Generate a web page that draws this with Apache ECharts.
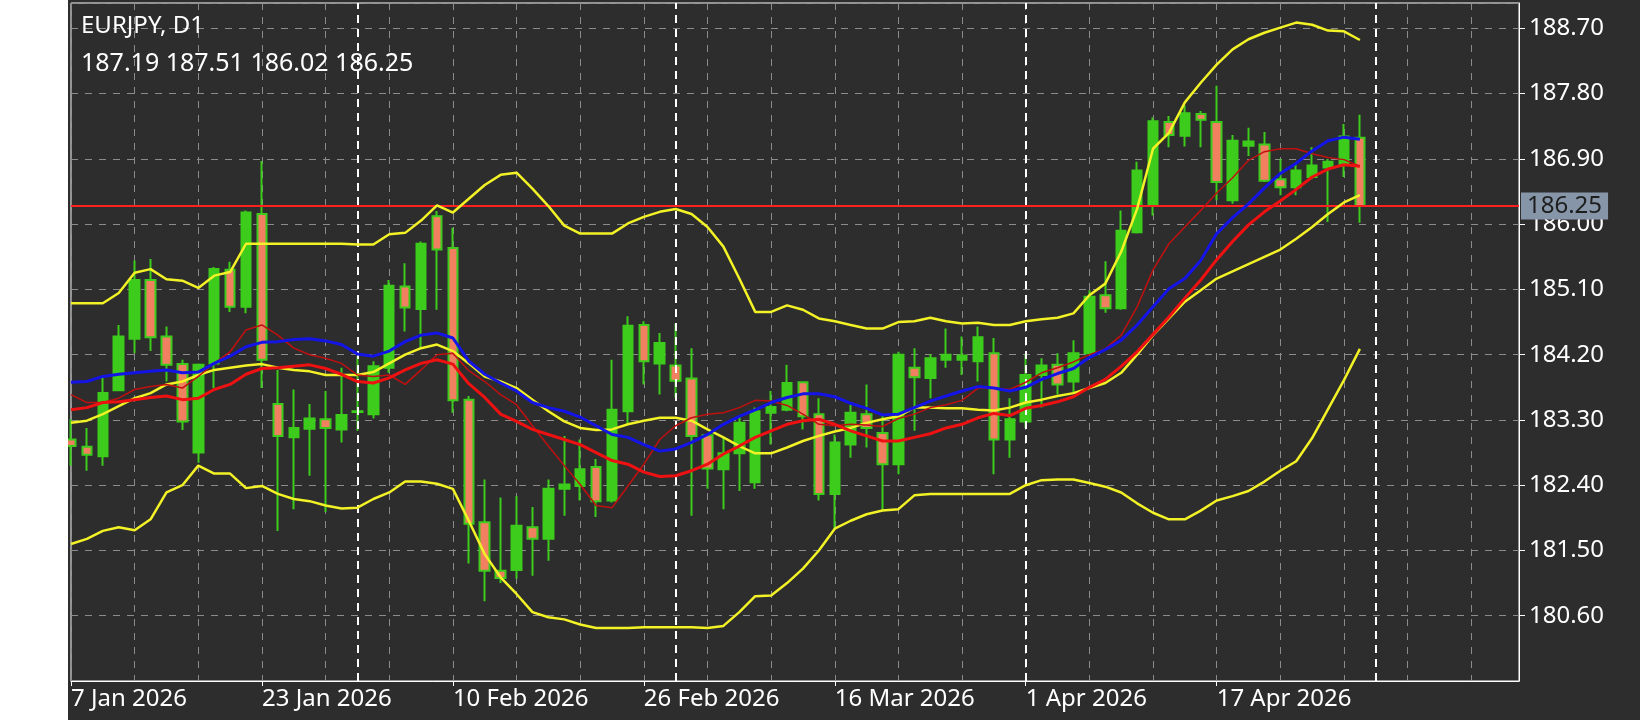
<!DOCTYPE html>
<html>
<head>
<meta charset="utf-8">
<script src="https://cdn.jsdelivr.net/npm/echarts@6/dist/echarts.min.js"></script>
<style>
html, body { margin: 0; padding: 0; background: #ffffff; }
#kline { position: absolute; left: 68px; top: 0; width: 1572px; height: 720px; background: #2d2d2d; }
</style>
</head>
<body>
<div id="kline"></div>
<script>
// 交易日（含未来空白）
var dates = [
	'7 Jan 2026', '8 Jan 2026', '9 Jan 2026', '12 Jan 2026', '13 Jan 2026', '14 Jan 2026', '15 Jan 2026', '16 Jan 2026', '19 Jan 2026', '20 Jan 2026',
	'21 Jan 2026', '22 Jan 2026', '23 Jan 2026', '26 Jan 2026', '27 Jan 2026', '28 Jan 2026', '29 Jan 2026', '30 Jan 2026',
	'2 Feb 2026', '3 Feb 2026', '4 Feb 2026', '5 Feb 2026', '6 Feb 2026', '9 Feb 2026', '10 Feb 2026', '11 Feb 2026', '12 Feb 2026', '13 Feb 2026',
	'16 Feb 2026', '17 Feb 2026', '18 Feb 2026', '19 Feb 2026', '20 Feb 2026', '23 Feb 2026', '24 Feb 2026', '25 Feb 2026', '26 Feb 2026', '27 Feb 2026',
	'2 Mar 2026', '3 Mar 2026', '4 Mar 2026', '5 Mar 2026', '6 Mar 2026', '9 Mar 2026', '10 Mar 2026', '11 Mar 2026', '12 Mar 2026', '13 Mar 2026',
	'16 Mar 2026', '17 Mar 2026', '18 Mar 2026', '19 Mar 2026', '20 Mar 2026', '23 Mar 2026', '24 Mar 2026', '25 Mar 2026', '26 Mar 2026', '27 Mar 2026',
	'30 Mar 2026', '31 Mar 2026',
	'1 Apr 2026', '2 Apr 2026', '3 Apr 2026', '6 Apr 2026', '7 Apr 2026', '8 Apr 2026', '9 Apr 2026', '10 Apr 2026', '13 Apr 2026', '14 Apr 2026',
	'15 Apr 2026', '16 Apr 2026', '17 Apr 2026', '20 Apr 2026', '21 Apr 2026', '22 Apr 2026', '23 Apr 2026', '24 Apr 2026', '27 Apr 2026', '28 Apr 2026',
	'29 Apr 2026', '30 Apr 2026',
	'1 May 2026', '4 May 2026', '5 May 2026', '6 May 2026', '7 May 2026', '8 May 2026', '11 May 2026', '12 May 2026', '13 May 2026', '14 May 2026'
];
var tickLabels = ['7 Jan 2026', '23 Jan 2026', '10 Feb 2026', '26 Feb 2026', '16 Mar 2026', '1 Apr 2026', '17 Apr 2026'];
var monthStarts = ['2 Feb 2026', '2 Mar 2026', '1 Apr 2026', '1 May 2026'];
var lastPrice = 186.25;

var open = [183.03,182.93,182.80,183.71,184.42,185.23,184.45,184.07,182.85,184.08,
	185.37,184.86,186.14,183.52,183.06,183.18,183.31,183.17,183.41,183.38,
	184.02,185.14,184.83,186.11,185.67,183.58,181.89,181.22,181.23,181.82,
	181.66,182.35,182.39,182.65,182.19,183.42,184.61,184.08,184.05,183.87,
	183.09,182.62,182.84,182.44,183.40,183.44,183.82,183.38,182.28,182.96,
	183.38,183.12,182.69,184.02,183.88,184.13,184.13,184.11,184.22,183.03,
	183.28,183.92,184.06,183.83,184.22,185.02,184.84,185.89,186.26,187.41,
	187.22,187.52,187.41,186.33,187.08,187.10,186.62,186.51,186.65,186.78,
	186.83,187.19];
var high = [183.31,183.19,183.88,184.61,185.50,185.52,184.59,184.13,184.08,185.41,
	185.48,186.19,186.87,183.99,183.72,183.52,183.70,184.02,184.18,184.11,
	185.23,185.46,185.76,186.18,185.95,183.63,182.48,182.23,182.25,182.10,
	182.48,183.08,183.03,182.76,184.13,184.73,184.66,184.50,184.63,184.29,
	183.10,183.06,183.35,183.47,183.70,184.06,183.83,183.60,183.10,183.51,
	183.79,183.35,184.24,184.29,184.21,184.56,184.45,184.59,184.43,183.60,
	184.20,184.15,184.22,184.40,185.09,185.49,186.19,186.86,187.47,187.49,
	187.64,187.56,187.91,187.23,187.33,187.27,186.90,186.83,187.06,186.90,
	187.38,187.51];
var low = [182.67,182.60,182.67,183.70,184.22,184.25,183.83,183.16,182.71,183.74,
	184.79,184.77,183.74,181.77,182.07,182.53,182.03,182.99,183.15,183.32,
	183.95,184.52,184.29,184.82,183.40,181.32,180.80,181.05,181.11,181.15,
	181.36,181.98,182.19,181.96,182.16,183.24,183.79,183.65,183.61,181.98,
	182.35,182.07,182.32,182.35,182.96,183.42,183.17,182.19,181.80,182.78,
	182.92,182.05,182.55,183.15,183.60,184.02,183.92,183.83,182.55,182.78,
	183.19,183.47,183.65,183.67,184.20,184.78,184.82,185.87,186.12,187.06,
	187.07,187.06,186.33,186.28,186.94,186.58,186.40,186.40,186.62,186.03,
	186.65,186.02];
var close = [182.94,182.82,183.67,184.45,185.23,184.44,184.06,183.28,184.06,185.38,
	184.86,186.16,184.13,183.08,183.19,183.32,183.19,183.37,183.42,184.04,
	185.15,184.85,185.73,185.65,183.57,181.87,181.22,181.12,181.84,181.66,
	182.35,182.41,182.62,182.18,183.44,184.60,184.11,184.36,183.84,183.08,
	182.63,182.84,183.26,183.42,183.48,183.81,183.35,182.28,182.99,183.40,
	183.19,182.69,184.20,183.89,184.15,184.20,184.19,184.44,183.03,183.31,
	183.92,184.05,183.79,184.22,185.00,184.84,185.91,186.74,187.42,187.23,
	187.53,187.44,186.58,187.15,187.14,186.60,186.51,186.74,186.81,186.86,
	187.21,186.25];

// 布林带
var bbUpper = [184.91,184.91,184.91,185.05,185.33,185.38,185.24,185.22,185.12,185.29,
	185.34,185.73,185.73,185.73,185.73,185.73,185.73,185.73,185.72,185.72,
	185.86,185.88,186.05,186.26,186.16,186.35,186.54,186.68,186.71,186.49,
	186.25,185.98,185.87,185.87,185.87,186.01,186.10,186.17,186.21,186.14,
	185.96,185.69,185.25,184.79,184.79,184.88,184.82,184.70,184.66,184.61,
	184.56,184.56,184.65,184.66,184.71,184.66,184.63,184.64,184.61,184.61,
	184.66,184.69,184.71,184.77,185.02,185.18,185.62,186.21,187.04,187.26,
	187.68,187.95,188.20,188.41,188.55,188.64,188.71,188.78,188.75,188.67,
	188.66,188.54];
var bbMiddle = [183.26,183.29,183.38,183.49,183.60,183.67,183.79,183.83,183.92,183.99,
	184.02,184.05,184.07,184.02,183.99,183.97,183.92,183.92,183.92,183.96,
	184.08,184.20,184.29,184.34,184.25,184.08,183.90,183.83,183.74,183.58,
	183.42,183.28,183.19,183.16,183.17,183.24,183.29,183.33,183.33,183.29,
	183.17,183.06,182.94,182.84,182.84,182.92,183.01,183.08,183.14,183.19,
	183.26,183.31,183.35,183.47,183.47,183.46,183.46,183.44,183.43,183.47,
	183.54,183.58,183.63,183.67,183.74,183.81,183.95,184.20,184.47,184.70,
	184.93,185.09,185.25,185.35,185.45,185.55,185.65,185.80,185.96,186.14,
	186.30,186.40];
var bbLower = [181.59,181.66,181.77,181.82,181.78,181.93,182.30,182.40,182.67,182.56,
	182.56,182.36,182.39,182.28,182.21,182.18,182.12,182.08,182.09,182.21,
	182.30,182.45,182.45,182.42,182.35,181.91,181.45,181.13,180.90,180.65,
	180.58,180.55,180.48,180.43,180.43,180.43,180.44,180.44,180.44,180.44,
	180.43,180.46,180.65,180.87,180.88,181.05,181.25,181.50,181.80,181.91,
	182.00,182.05,182.07,182.26,182.28,182.28,182.28,182.28,182.28,182.28,
	182.40,182.47,182.48,182.48,182.43,182.38,182.30,182.15,182.02,181.93,
	181.93,182.05,182.19,182.25,182.32,182.45,182.60,182.73,183.05,183.45,
	183.85,184.28];
// 均线
var maBlue = [183.82,183.83,183.90,183.93,183.95,183.97,183.99,183.95,183.96,184.08,
	184.18,184.31,184.37,184.38,184.41,184.42,184.39,184.34,184.21,184.18,
	184.25,184.38,184.47,184.50,184.43,184.11,183.93,183.81,183.70,183.54,
	183.47,183.42,183.34,183.22,183.10,183.06,182.96,182.87,182.90,182.99,
	183.10,183.24,183.35,183.44,183.54,183.61,183.66,183.66,183.62,183.53,
	183.46,183.37,183.38,183.47,183.56,183.63,183.70,183.76,183.74,183.70,
	183.75,183.86,183.94,184.01,184.16,184.27,184.40,184.61,184.86,185.11,
	185.25,185.50,185.87,186.09,186.28,186.50,186.70,186.84,187.01,187.15,
	187.20,187.17];
var maRed = [183.44,183.47,183.54,183.55,183.58,183.61,183.63,183.58,183.60,183.72,
	183.79,183.93,184.01,184.02,184.04,184.06,184.01,183.93,183.83,183.81,
	183.88,183.99,184.08,184.13,184.07,183.80,183.61,183.38,183.28,183.17,
	183.10,183.03,182.96,182.85,182.74,182.69,182.58,182.52,182.53,182.60,
	182.69,182.83,182.94,183.06,183.15,183.24,183.29,183.31,183.24,183.15,
	183.08,183.01,183.01,183.06,183.11,183.19,183.24,183.33,183.39,183.36,
	183.46,183.50,183.55,183.62,183.75,183.86,184.04,184.24,184.48,184.72,
	184.98,185.23,185.51,185.76,185.99,186.17,186.32,186.48,186.65,186.76,
	186.82,186.80];
var maDarkRed = [183.65,183.54,183.54,183.60,183.72,183.76,183.79,183.74,183.90,184.08,
	184.24,184.54,184.61,184.47,184.29,184.20,184.15,184.08,183.92,183.90,
	183.92,183.79,183.99,184.20,184.22,183.98,183.83,183.65,183.51,183.22,
	182.94,182.67,182.41,182.12,182.09,182.39,182.69,183.03,183.22,183.33,
	183.38,183.40,183.47,183.57,183.56,183.50,183.38,183.24,183.22,183.24,
	183.23,183.21,183.32,183.38,183.47,183.51,183.57,183.74,183.74,183.72,
	183.82,183.95,184.02,184.10,184.20,184.28,184.47,184.86,185.37,185.73,
	185.96,186.19,186.43,186.64,186.88,187.00,187.04,187.04,186.97,186.92,
	186.89,186.80];

var myChart = echarts.init(document.getElementById('kline'));

// ECharts 蜡烛图数据顺序：开盘、收盘、最低、最高
var values = [];
for (var i = 0; i < open.length; i++) {
	values.push([open[i], close[i], low[i], high[i]]);
}

function lineSeries(name, data, color, width) {
	return {
		name: name,
		type: 'line',
		data: data,
		showSymbol: false,
		symbol: 'none',
		lineStyle: { color: color, width: width },
		z: 5
	};
}

var option = {
	backgroundColor: '#2d2d2d',
	animation: false,
	title: {
		text: 'EURJPY, D1',
		subtext: '187.19 187.51 186.02 186.25',
		left: 8,
		top: 9,
		itemGap: 13,
		textStyle: { color: '#ffffff', fontSize: 24, fontWeight: 'normal', fontFamily: 'Noto Sans' },
		subtextStyle: { color: '#ffffff', fontSize: 25, fontFamily: 'Noto Sans' }
	},
	grid: { left: 3, top: 3, right: 121, bottom: 39, show: true, borderColor: '#ffffff', borderWidth: 1 },
	xAxis: {
		type: 'category',
		data: dates,
		boundaryGap: false,
		axisLine: { lineStyle: { color: '#ffffff' } },
		axisTick: {
			show: true,
			length: 5,
			lineStyle: { color: '#ffffff' },
			interval: function (i, v) { return tickLabels.indexOf(v) >= 0; }
		},
		axisLabel: {
			color: '#ffffff',
			fontSize: 24,
			fontFamily: 'Noto Sans',
			align: 'left',
			margin: 6,
			interval: function (i, v) { return tickLabels.indexOf(v) >= 0; }
		},
		splitLine: { show: true, interval: 3, lineStyle: { color: '#8c8c8c', type: [7, 7], width: 1 } }
	},
	yAxis: {
		type: 'value',
		position: 'right',
		min: 179.7,
		max: 189.05,
		interval: 0.9,
		axisLine: { show: true, lineStyle: { color: '#ffffff' } },
		axisTick: { show: true, length: 6, lineStyle: { color: '#ffffff' } },
		axisLabel: {
			color: '#ffffff',
			fontSize: 24,
			fontFamily: 'Noto Sans',
			margin: 10,
			showMinLabel: false,
			showMaxLabel: false,
			formatter: function (v) { return v.toFixed(2); }
		},
		splitLine: { show: true, lineStyle: { color: '#8c8c8c', type: [7, 7], width: 1 } }
	},
	series: [
		{
			name: 'EURJPY',
			type: 'candlestick',
			data: values,
			barWidth: 10,
			itemStyle: {
				color: '#3dcc1c',
				color0: '#f08060',
				borderColor: '#3dcc1c',
				borderColor0: '#3dcc1c',
				borderWidth: 2
			},
			markLine: {
				silent: true,
				symbol: ['none', 'none'],
				animation: false,
				data: monthStarts.map(function (d) {
					return { xAxis: d, lineStyle: { color: '#ffffff', type: [8, 6], width: 2 }, label: { show: false } };
				}).concat([{
					yAxis: lastPrice,
					lineStyle: { color: '#ff2020', type: 'solid', width: 2 },
					label: {
						show: true,
						position: 'end',
						distance: 2,
						formatter: lastPrice.toFixed(2),
						color: '#1e1e1e',
						fontSize: 24,
						fontFamily: 'Noto Sans',
						backgroundColor: '#8696a8',
						padding: [3, 6, 0, 6]
					}
				}])
			}
		},
		lineSeries('BB Upper', bbUpper, '#f2f226', 2.5),
		lineSeries('BB Middle', bbMiddle, '#f2f226', 2.5),
		lineSeries('BB Lower', bbLower, '#f2f226', 2.5),
		lineSeries('MA Dark', maDarkRed, '#c01010', 1.5),
		lineSeries('MA Red', maRed, '#ee1111', 3),
		lineSeries('MA Blue', maBlue, '#1414e6', 3)
	]
};

myChart.setOption(option);
</script>
</body>
</html>
